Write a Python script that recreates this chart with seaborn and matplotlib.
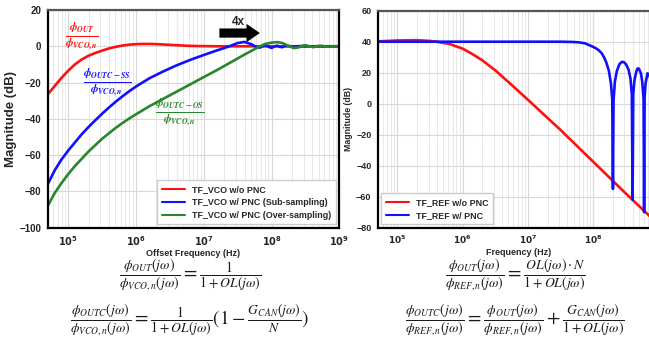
import numpy as np
import pandas as pd
import matplotlib
matplotlib.use("Agg")
import matplotlib.pyplot as plt
import seaborn as sns
from matplotlib.ticker import FuncFormatter, LogLocator

# ---------------- data (log10 of frequency in Hz, magnitude in dB) ----------------
vco_red_logf = [4.699, 4.8, 4.9, 5.0, 5.1, 5.2, 5.3, 5.4, 5.5, 5.6, 5.7, 5.8, 5.9, 6.0,
                6.1, 6.2, 6.3, 6.4, 6.5, 6.6, 6.7, 6.8, 6.9, 7.0, 7.2, 7.5, 8.0, 8.5, 9.0]
vco_red_db = [-26.5, -22, -17.5, -13.5, -10, -7.3, -5.2, -3.7, -2.4, -1.2, -0.3, 0.4, 0.9, 1.2,
              1.3, 1.3, 1.2, 1.0, 0.8, 0.6, 0.4, 0.25, 0.15, 0.1, 0, 0, 0, 0, 0]

vco_blue_logf = [4.699, 4.8, 4.9, 5.0, 5.1, 5.2, 5.3, 5.4, 5.5, 5.6, 5.7, 5.8, 5.9, 6.0,
                 6.2, 6.4, 6.6, 6.8, 7.0, 7.2, 7.3, 7.4, 7.5, 7.6, 7.7, 7.78, 7.83, 7.88,
                 7.92, 7.96, 8.0, 8.04, 8.08, 8.12, 8.16, 8.2, 8.25, 8.3, 8.4, 8.5, 9.0]
vco_blue_db = [-76, -68.5, -62.5, -57.5, -53, -48.5, -44.5, -40.8, -37.2, -33.8, -30.6, -27.6, -24.8, -22.2,
               -17.6, -13.9, -10.5, -7.5, -4.8, -2.2, -1.0, 0.3, 1.8, 2.4, 1.2, -0.5, -0.7, 0.2,
               0.5, -0.3, -0.9, -0.2, 0.4, -0.3, -0.5, 0.2, 0.2, -0.2, 0.1, 0, 0]

vco_green_logf = [4.699, 4.8, 4.9, 5.0, 5.1, 5.2, 5.3, 5.4, 5.5, 5.6, 5.7, 5.8, 5.9, 6.0,
                  6.2, 6.4, 6.6, 6.8, 7.0, 7.2, 7.4, 7.6, 7.8, 7.9, 8.0, 8.08, 8.16, 8.25,
                  8.33, 8.4, 8.45, 8.5, 8.56, 8.62, 8.68, 8.74, 8.8, 8.86, 8.92, 9.0]
vco_green_db = [-88, -81, -75.5, -70.5, -66, -62, -58, -54.5, -51, -48, -45, -42.3, -39.8, -37.5,
                -33, -29, -25, -21, -17, -13, -8.8, -4.6, -0.6, 1.2, 2.0, 2.3, 1.8, 0.2,
                -1.0, -0.6, 0.3, 0.6, 0, -0.5, 0.2, 0.3, -0.2, -0.2, 0.1, 0]

ref_red_logf = [4.699, 5.0, 5.3, 5.5, 5.6, 5.8, 6.0, 6.15, 6.3, 6.5, 6.7, 7.0, 7.5, 8.0, 8.5, 9.0]
ref_red_db = [40.2, 40.8, 41.0, 40.5, 40.0, 38.5, 35.5, 32, 28, 21.5, 14, 2.5, -17, -37.5, -58, -78]

ref_blue_logf = [4.699, 5.0, 6.0, 7.0, 7.5, 7.6, 7.7, 7.77, 7.87, 7.97, 8.03, 8.08, 8.13, 8.17,
                 8.2, 8.24, 8.27, 8.29, 8.301, 8.31, 8.33, 8.36, 8.4, 8.44, 8.47, 8.5, 8.54,
                 8.57, 8.59, 8.602, 8.612, 8.63, 8.66, 8.68, 8.70, 8.73, 8.75, 8.77, 8.778,
                 8.786, 8.80, 8.83, 8.86, 8.89]
ref_blue_db = [40, 40, 40, 40, 40, 39.9, 39.8, 39.6, 39, 37.2, 36, 34.6, 32.5, 29.5,
               26.5, 21, 13, 3, -55, 2, 14, 21, 25.5, 27, 26.8, 25.5, 22,
               16, 6, -62, 6, 15, 21, 22.8, 22.5, 19.5, 14, 3, -70,
               4, 13, 19.6, 18.5, 12]

vco_labels = ["TF_VCO w/o PNC", "TF_VCO w/ PNC (Sub-sampling)", "TF_VCO w/ PNC (Over-sampling)"]
ref_labels = ["TF_REF w/o PNC", "TF_REF w/ PNC"]
vco_yticks = [20, 0, -20, -40, -60, -80, -100]
ref_yticks = [60, 40, 20, 0, -20, -40, -60, -80]

RED = "#ff1010"
BLUE = "#1010ff"
GREEN = "#2a862a"

# ---------------- styling ----------------
sns.set_theme(style="whitegrid")
plt.rcParams["font.family"] = ["Liberation Sans", "DejaVu Sans"]
plt.rcParams["font.weight"] = "normal"
# bold-italic STIX for the coloured curve labels (used only via math_fontfamily="custom")
plt.rcParams["mathtext.fontset"] = "custom"
plt.rcParams["mathtext.it"] = "STIXGeneral:italic:bold"
plt.rcParams["mathtext.rm"] = "STIXGeneral:bold"
plt.rcParams["mathtext.bf"] = "STIXGeneral:bold"
plt.rcParams["mathtext.sf"] = "STIXGeneral:bold"

fig = plt.figure(figsize=(6.49, 3.44), dpi=100)
W, H = 649.0, 344.0
ax1 = fig.add_axes([47.7 / W, 1 - 227.8 / H, 291.6 / W, 217.8 / H])
ax2 = fig.add_axes([377.7 / W, 1 - 227.7 / H, 280.9 / W, 217.0 / H])


def df_of(logf, db, name):
    return pd.DataFrame({"f": 10 ** np.asarray(logf, float), "dB": db, "s": name})


def style_axes(ax, ylim, yticks, tick_fs, max_exp):
    ax.set_xscale("log")
    ax.set_xlim(5e4, 1e9)
    ax.set_ylim(*ylim)
    ax.set_yticks(yticks)
    ax.xaxis.set_major_locator(LogLocator(base=10, numticks=20))
    ax.xaxis.set_minor_locator(LogLocator(base=10, subs=np.arange(2, 10), numticks=100))

    def fmt(v, p):
        e = int(round(np.log10(v)))
        return r"$\mathbf{10^{%d}}$" % e if e <= max_exp else ""
    ax.xaxis.set_major_formatter(FuncFormatter(fmt))
    ax.set_facecolor("white")
    ax.grid(True, which="major", color="#d8d8d8", lw=0.8)
    ax.grid(True, which="minor", axis="x", color="#e4e4e4", lw=0.6)
    for s in ax.spines.values():
        s.set_color("black")
        s.set_linewidth(1.6)
    ax.spines["top"].set_color("#555555")
    ax.tick_params(axis="both", which="major", labelsize=tick_fs, length=3, width=0.8,
                   direction="out", pad=1.5, color="black")
    ax.tick_params(axis="x", which="minor", length=0)


def finish_ticks(ax):
    for lab in ax.get_yticklabels():
        lab.set_fontweight("bold")
    for lab in ax.get_xticklabels():
        lab.set_math_fontfamily("dejavusans")


# ---------------- left panel ----------------
for logf, db, name, c in [(vco_red_logf, vco_red_db, vco_labels[0], RED),
                          (vco_blue_logf, vco_blue_db, vco_labels[1], BLUE),
                          (vco_green_logf, vco_green_db, vco_labels[2], GREEN)]:
    sns.lineplot(data=df_of(logf, db, name), x="f", y="dB", ax=ax1, color=c, lw=1.9,
                 label=name, sort=True)
style_axes(ax1, (-100, 20), vco_yticks, 7, 9)
ax1.set_xlabel("Offset Frequency (Hz)", fontsize=6.5, fontweight="bold", labelpad=1)
ax1.set_ylabel("Magnitude (dB)", fontsize=9.5, fontweight="bold", labelpad=2)
leg1 = ax1.legend(loc="lower right", prop={"size": 6.4, "weight": "bold"}, frameon=True,
                  fancybox=False, handlelength=2.6, borderpad=0.5, labelspacing=0.45,
                  borderaxespad=0.4, edgecolor="#cccccc", framealpha=1)
for l in leg1.get_lines():
    l.set_linewidth(1.5)

frac_kw = dict(transform=ax1.transAxes, fontsize=11.5, ha="center", va="center",
               math_fontfamily="custom")
ax1.text(0.118, 0.88, r"$\frac{\phi_{OUT}}{\phi_{VCO,n}}$", color=RED, **frac_kw)
ax1.text(0.203, 0.669, r"$\frac{\phi_{OUTC-SS}}{\phi_{VCO,n}}$", color=BLUE, **frac_kw)
ax1.text(0.454, 0.532, r"$\frac{\phi_{OUTC-OS}}{\phi_{VCO,n}}$", color=GREEN, **frac_kw)

ax1.annotate("", xy=(7.4e7, 7.3), xytext=(1.55e7, 7.3),
             arrowprops=dict(arrowstyle="simple,head_length=0.8,head_width=1.1,tail_width=0.55",
                             color="black", lw=0))
ax1.text(3.2e7, 13.5, "4x", fontsize=8.5, fontweight="bold", ha="center", va="center")

# ---------------- right panel ----------------
for logf, db, name, c in [(ref_red_logf, ref_red_db, ref_labels[0], RED),
                          (ref_blue_logf, ref_blue_db, ref_labels[1], BLUE)]:
    sns.lineplot(data=df_of(logf, db, name), x="f", y="dB", ax=ax2, color=c, lw=1.9,
                 label=name, sort=True)
style_axes(ax2, (-80, 60), ref_yticks, 6.5, 8)
ax2.set_xlabel("Frequency (Hz)", fontsize=6.5, fontweight="bold", labelpad=1)
ax2.set_ylabel("Magnitude (dB)", fontsize=6.3, fontweight="bold", labelpad=2)
leg2 = ax2.legend(loc="lower left", prop={"size": 6.4, "weight": "bold"}, frameon=True,
                  fancybox=False, handlelength=2.6, borderpad=0.5, labelspacing=0.45,
                  borderaxespad=0.4, edgecolor="#cccccc", framealpha=1)
for l in leg2.get_lines():
    l.set_linewidth(1.5)

finish_ticks(ax1)
finish_ticks(ax2)

# ---------------- equations ----------------
eq_kw = dict(fontsize=14, ha="center", va="center", math_fontfamily="stix",
             color="#1a1a1a")
fig.text(190 / W, 1 - 276 / H,
         r"$\frac{\phi_{OUT}(j\omega)}{\phi_{VCO,n}(j\omega)}=\frac{1}{1+OL(j\omega)}$", **eq_kw)
fig.text(190 / W, 1 - 321 / H,
         r"$\frac{\phi_{OUTC}(j\omega)}{\phi_{VCO,n}(j\omega)}=\frac{1}{1+OL(j\omega)}(1-\frac{G_{CAN}(j\omega)}{N})$",
         **eq_kw)
fig.text(515 / W, 1 - 276 / H,
         r"$\frac{\phi_{OUT}(j\omega)}{\phi_{REF,n}(j\omega)}=\frac{OL(j\omega)\cdot N}{1+OL(j\omega)}$", **eq_kw)
fig.text(515 / W, 1 - 321 / H,
         r"$\frac{\phi_{OUTC}(j\omega)}{\phi_{REF,n}(j\omega)}=\frac{\phi_{OUT}(j\omega)}{\phi_{REF,n}(j\omega)}+\frac{G_{CAN}(j\omega)}{1+OL(j\omega)}$",
         **eq_kw)

fig.savefig("out.png", dpi=100, facecolor="white")
